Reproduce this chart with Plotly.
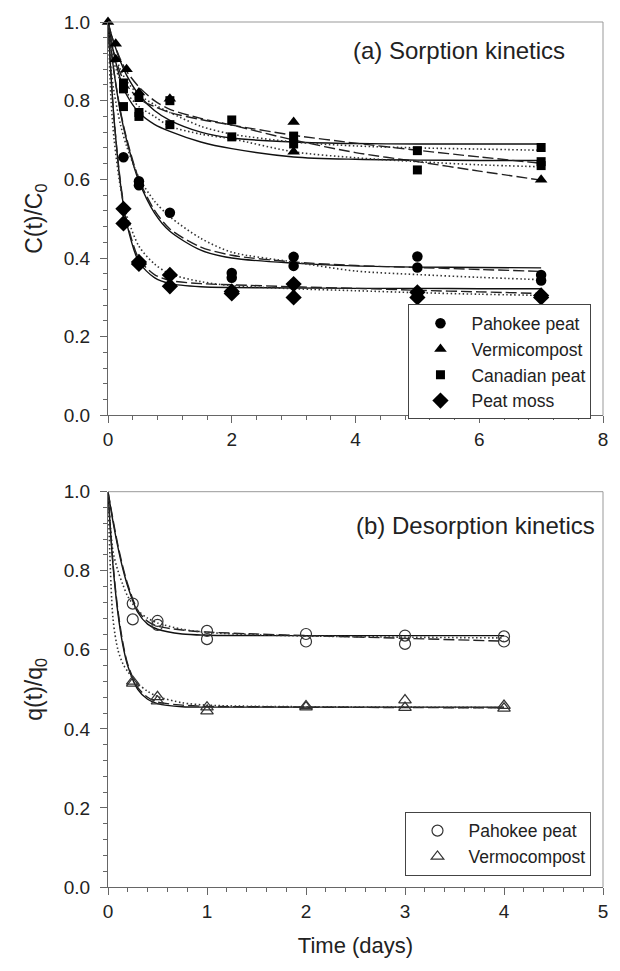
import plotly.graph_objects as go

# ---------------- (a) Sorption kinetics: measured points ----------------
t_pah = [0.25, 0.5, 0.5, 1, 2, 2, 3, 3, 5, 5, 7, 7]
c_pah = [0.656, 0.595, 0.585, 0.515, 0.362, 0.350, 0.403, 0.380, 0.404, 0.376, 0.357, 0.343]
t_ver = [0, 0.125, 0.125, 0.3, 0.5, 1, 3, 3, 7]
c_ver = [1.0, 0.945, 0.905, 0.88, 0.821, 0.805, 0.746, 0.67, 0.599]
t_can = [0.25, 0.25, 0.25, 0.5, 0.5, 0.5, 1, 1, 2, 2, 3, 3, 5, 5, 7, 7, 7]
c_can = [0.845, 0.83, 0.785, 0.808, 0.77, 0.76, 0.80, 0.739, 0.751, 0.708, 0.71, 0.69,
         0.673, 0.624, 0.681, 0.645, 0.635]
t_pm = [0.25, 0.25, 0.5, 0.5, 1, 1, 2, 2, 3, 3, 5, 5, 7, 7]
c_pm = [0.525, 0.488, 0.39, 0.385, 0.357, 0.328, 0.315, 0.31, 0.334, 0.30, 0.313, 0.30, 0.305, 0.30]

# ---------------- (a) model curves ----------------
t_fit = [0, 0.05, 0.1, 0.2, 0.3, 0.5, 0.75, 1, 1.5, 2, 3, 4, 5, 6, 7]
pah_solid = [1.0, 0.93, 0.87, 0.77, 0.70, 0.595, 0.515, 0.468, 0.42, 0.40, 0.387, 0.38, 0.377, 0.376, 0.375]
pah_dash = [1.0, 0.93, 0.87, 0.775, 0.705, 0.60, 0.522, 0.474, 0.428, 0.407, 0.39, 0.381, 0.376, 0.371, 0.366]
pah_dot = [1.0, 0.88, 0.82, 0.74, 0.685, 0.605, 0.545, 0.505, 0.45, 0.415, 0.39, 0.367, 0.358, 0.351, 0.345]
ver_solid = [1.0, 0.97, 0.945, 0.90, 0.865, 0.815, 0.775, 0.75, 0.72, 0.705, 0.695, 0.691, 0.69, 0.69, 0.69]
ver_dash = [1.0, 0.97, 0.945, 0.905, 0.875, 0.835, 0.80, 0.778, 0.755, 0.738, 0.70, 0.668, 0.645, 0.621, 0.598]
ver_dot = [1.0, 0.95, 0.92, 0.88, 0.85, 0.815, 0.79, 0.77, 0.735, 0.715, 0.695, 0.685, 0.68, 0.677, 0.674]
can_solid = [1.0, 0.955, 0.915, 0.855, 0.815, 0.77, 0.74, 0.722, 0.695, 0.678, 0.657, 0.651, 0.649, 0.648, 0.648]
can_dash = [1.0, 0.955, 0.92, 0.87, 0.84, 0.805, 0.785, 0.77, 0.752, 0.738, 0.712, 0.692, 0.674, 0.657, 0.641]
can_dot = [1.0, 0.93, 0.895, 0.85, 0.82, 0.785, 0.76, 0.735, 0.715, 0.703, 0.67, 0.655, 0.645, 0.637, 0.632]
pm_solid = [1.0, 0.86, 0.75, 0.59, 0.49, 0.39, 0.35, 0.335, 0.327, 0.325, 0.324, 0.323, 0.323, 0.322, 0.322]
pm_dash = [1.0, 0.86, 0.75, 0.595, 0.497, 0.398, 0.358, 0.343, 0.335, 0.332, 0.327, 0.323, 0.318, 0.314, 0.31]
pm_dot = [1.0, 0.80, 0.70, 0.58, 0.51, 0.43, 0.385, 0.36, 0.34, 0.33, 0.322, 0.317, 0.312, 0.308, 0.305]

# ---------------- (b) Desorption kinetics: measured points ----------------
tq_pah = [0.25, 0.25, 0.5, 0.5, 1, 1, 2, 2, 3, 3, 4, 4]
q_pah = [0.717, 0.677, 0.673, 0.663, 0.648, 0.627, 0.640, 0.621, 0.636, 0.615, 0.634, 0.621]
tq_ver = [0.25, 0.25, 0.5, 0.5, 1, 1, 2, 2, 3, 3, 4, 4]
q_ver = [0.52, 0.515, 0.481, 0.47, 0.455, 0.445, 0.458, 0.455, 0.473, 0.454, 0.459, 0.452]

# ---------------- (b) model curves ----------------
tq_fit = [0, 0.05, 0.1, 0.15, 0.2, 0.3, 0.4, 0.5, 0.75, 1, 1.5, 2, 3, 4]
bp_solid = [1.0, 0.925, 0.86, 0.805, 0.76, 0.695, 0.665, 0.652, 0.64, 0.637, 0.636, 0.636, 0.636, 0.636]
bp_dash = [1.0, 0.93, 0.865, 0.81, 0.765, 0.70, 0.672, 0.66, 0.65, 0.645, 0.64, 0.636, 0.629, 0.622]
bp_dot = [1.0, 0.85, 0.80, 0.765, 0.735, 0.70, 0.68, 0.668, 0.652, 0.644, 0.638, 0.635, 0.632, 0.63]
bv_solid = [1.0, 0.815, 0.693, 0.612, 0.559, 0.50, 0.475, 0.464, 0.456, 0.455, 0.455, 0.455, 0.455, 0.455]
bv_dash = [1.0, 0.82, 0.70, 0.618, 0.563, 0.505, 0.48, 0.468, 0.46, 0.457, 0.456, 0.455, 0.454, 0.453]
bv_dot = [1.0, 0.68, 0.60, 0.565, 0.545, 0.515, 0.495, 0.482, 0.466, 0.46, 0.457, 0.456, 0.455, 0.454]

FONT = "Liberation Sans, Arial, sans-serif"
STYLES = {
    "solid": dict(color="#111111", width=1.4, dash="solid"),
    "dash": dict(color="#222222", width=1.4, dash="11px,4px"),
    "dot": dict(color="#333333", width=1.6, dash="1.5px,2.5px"),
}

fig = go.Figure()


def add_curve(x, y, style, xa, ya):
    fig.add_trace(go.Scatter(x=x, y=y, mode="lines", xaxis=xa, yaxis=ya,
                             line=dict(shape="spline", smoothing=0.8, **STYLES[style]),
                             showlegend=False, hoverinfo="skip"))


for ys in [(pah_solid, "solid"), (pah_dash, "dash"), (pah_dot, "dot"),
           (ver_solid, "solid"), (ver_dash, "dash"), (ver_dot, "dot"),
           (can_solid, "solid"), (can_dash, "dash"), (can_dot, "dot"),
           (pm_solid, "solid"), (pm_dash, "dash"), (pm_dot, "dot")]:
    add_curve(t_fit, ys[0], ys[1], "x", "y")

for ys in [(bp_solid, "solid"), (bp_dash, "dash"), (bp_dot, "dot"),
           (bv_solid, "solid"), (bv_dash, "dash"), (bv_dot, "dot")]:
    add_curve(tq_fit, ys[0], ys[1], "x2", "y2")

# filled markers, panel (a)
for name, x, y, sym, size in [("Pahokee peat", t_pah, c_pah, "circle", 10.5),
                              ("Vermicompost", t_ver, c_ver, "triangle-up", 11),
                              ("Canadian peat", t_can, c_can, "square", 9),
                              ("Peat moss", t_pm, c_pm, "diamond", 12.5)]:
    fig.add_trace(go.Scatter(x=x, y=y, mode="markers", name=name, xaxis="x", yaxis="y",
                             legend="legend", cliponaxis=False,
                             marker=dict(symbol=sym, size=size, color="#000000",
                                         line=dict(width=0))))

# open markers, panel (b)
for name, x, y, sym in [("Pahokee peat", tq_pah, q_pah, "circle-open"),
                        ("Vermocompost", tq_ver, q_ver, "triangle-up-open")]:
    fig.add_trace(go.Scatter(x=x, y=y, mode="markers", name=name, xaxis="x2", yaxis="y2",
                             legend="legend2", cliponaxis=False,
                             marker=dict(symbol=sym, size=11, color="#333333",
                                         line=dict(width=1.2, color="#333333"))))

AX = dict(showgrid=False, zeroline=False, showline=True, linecolor="#666666", linewidth=1,
          ticks="outside", ticklen=7, tickwidth=1, tickcolor="#666666",
          tickfont=dict(family=FONT, size=19, color="#222222"), mirror=False)

fig.update_layout(
    width=620, height=971,
    margin=dict(l=108, r=13, t=14, b=84),
    paper_bgcolor="white", plot_bgcolor="white",
    font=dict(family=FONT, color="#222222"),
    xaxis=dict(domain=[0, 1], range=[0, 8], anchor="y", dtick=2, tick0=0,
               minor=dict(dtick=0.4, ticklen=4, ticks="outside", tickcolor="#666666"), **AX),
    yaxis=dict(domain=[0.5452, 1], range=[0, 1], anchor="x", dtick=0.2, tickformat=".1f",
               ticklabelstandoff=6,
               minor=dict(dtick=0.04, ticklen=4, ticks="outside", tickcolor="#666666"),
               title=dict(text="C(t)/C<sub>0</sub>", font=dict(family=FONT, size=23, color="#222222"),
                          standoff=14), **AX),
    xaxis2=dict(domain=[0, 1], range=[0, 5], anchor="y2", dtick=1, tick0=0,
                minor=dict(dtick=0.2, ticklen=4, ticks="outside", tickcolor="#666666"),
                title=dict(text="Time (days)", font=dict(family=FONT, size=22, color="#222222"),
                           standoff=16), **AX),
    yaxis2=dict(domain=[0, 0.457], range=[0, 1], anchor="x2", dtick=0.2, tickformat=".1f",
                ticklabelstandoff=6,
                minor=dict(dtick=0.04, ticklen=4, ticks="outside", tickcolor="#666666"),
                title=dict(text="q(t)/q<sub>0</sub>", font=dict(family=FONT, size=23, color="#222222"),
                           standoff=14), **AX),
    legend=dict(x=0.607, y=0.6735, xanchor="left", yanchor="top", bgcolor="white",
                bordercolor="#444444", borderwidth=1, itemwidth=52,
                font=dict(family=FONT, size=17.5, color="#222222"), tracegroupgap=0),
    legend2=dict(x=0.601, y=0.087, xanchor="left", yanchor="top", bgcolor="white",
                 bordercolor="#444444", borderwidth=1, itemwidth=52,
                 font=dict(family=FONT, size=17.5, color="#222222"), tracegroupgap=0),
    annotations=[
        dict(text="(a) Sorption kinetics", xref="paper", yref="paper", x=0.491, y=0.9668,
             xanchor="left", yanchor="middle", showarrow=False,
             font=dict(family=FONT, size=24, color="#222222")),
        dict(text="(b) Desorption kinetics", xref="paper", yref="paper", x=0.4965, y=0.418,
             xanchor="left", yanchor="middle", showarrow=False,
             font=dict(family=FONT, size=24, color="#222222")),
    ],
    shapes=[
        dict(type="line", xref="x domain", yref="y domain", x0=0, x1=1, y0=1, y1=1,
             line=dict(color="#999999", width=1)),
        dict(type="line", xref="x domain", yref="y domain", x0=1, x1=1, y0=0, y1=1,
             line=dict(color="#999999", width=1)),
        dict(type="line", xref="x2 domain", yref="y2 domain", x0=0, x1=1, y0=1, y1=1,
             line=dict(color="#999999", width=1)),
        dict(type="line", xref="x2 domain", yref="y2 domain", x0=1, x1=1, y0=0, y1=1,
             line=dict(color="#999999", width=1)),
    ],
)

fig.write_html("out.html")
